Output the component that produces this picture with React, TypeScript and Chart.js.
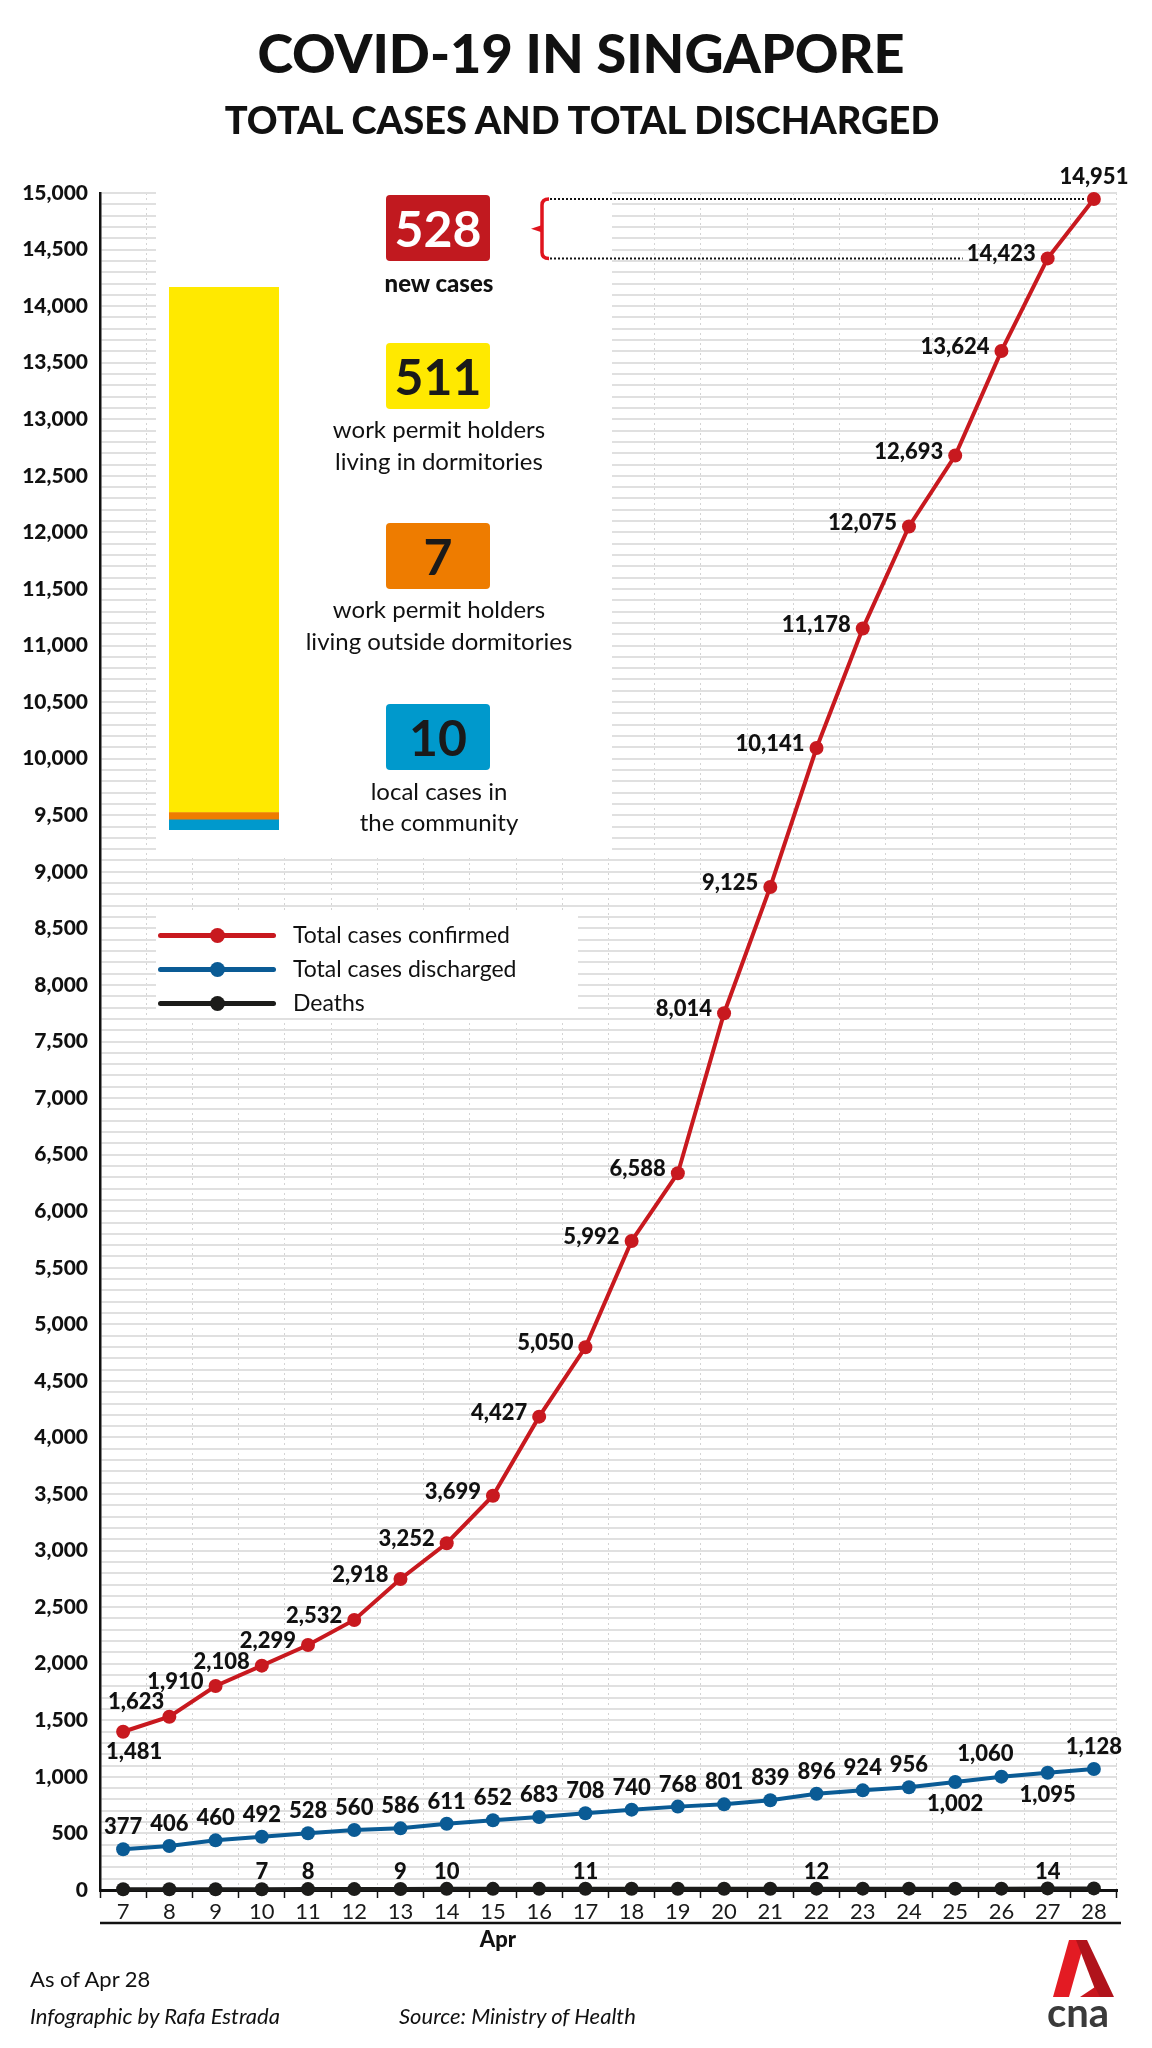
import { useEffect, useRef } from "react"
import { Chart, registerables } from "chart.js"

Chart.register(...registerables)

// April 2020, day of month
const days = ["7", "8", "9", "10", "11", "12", "13", "14", "15", "16", "17", "18", "19", "20", "21", "22", "23", "24", "25", "26", "27", "28"]

const seriesNames = ["Total cases confirmed", "Total cases discharged", "Deaths"]

// heights as drawn in the infographic (they drift a little from the printed labels)
const confirmedPlotted = [1399, 1532, 1803, 1983, 2166, 2387, 2749, 3065, 3485, 4184, 4797, 5737, 6336, 7750, 8866, 10094, 11150, 12052, 12680, 13604, 14422, 14947]
const confirmedLabels = ["1,481", "1,623", "1,910", "2,108", "2,299", "2,532", "2,918", "3,252", "3,699", "4,427", "5,050", "5,992", "6,588", "8,014", "9,125", "10,141", "11,178", "12,075", "12,693", "13,624", "14,423", "14,951"]

const dischargedPlotted = [360, 389, 439, 471, 501, 530, 545, 586, 616, 645, 678, 710, 737, 757, 793, 851, 881, 908, 955, 1002, 1037, 1070]
const dischargedLabels = ["377", "406", "460", "492", "528", "560", "586", "611", "652", "683", "708", "740", "768", "801", "839", "896", "924", "956", "1,002", "1,060", "1,095", "1,128"]

const deaths = [6, 6, 6, 7, 8, 8, 9, 10, 10, 10, 11, 11, 11, 11, 11, 12, 12, 12, 12, 12, 14, 14]
const deathLabels = ["", "", "", "7", "8", "", "9", "10", "", "", "11", "", "", "", "", "12", "", "", "", "", "14", ""]

// new cases on Apr 28, bottom of the stack first
const newCaseGroups = ["local cases in|the community", "work permit holders|living outside dormitories", "work permit holders|living in dormitories"]
const newCaseCounts = [10, 7, 511]
const newCasesTotal = 528

// where each point label sits
const confirmedSide = ["belowRight", "leftHigh", "left", "left", "left", "left", "left", "left", "left", "left", "left", "left", "left", "left", "left", "left", "left", "left", "left", "left", "left", "above"]
const dischargedSide = ["above", "above", "above", "above", "above", "above", "above", "above", "above", "above", "above", "above", "above", "above", "above", "above", "above", "above", "below", "aboveLeft", "below", "above"]

const RED = "#c8191f"
const BLUE = "#0a5b95"
const BLACK = "#1c1c1a"
const groupColors = ["#0099cc", "#ee7c00", "#ffe900"]
const FONT = "Lato, sans-serif"
const LABEL_FONT = `900 22px ${FONT}`

const panelPlugin = {
  id: "panels",
  beforeDatasetsDraw(chart: Chart) {
    const ctx = chart.ctx
    ctx.save()
    ctx.fillStyle = "#fff"
    ctx.fillRect(156, 185, 456, 672)
    ctx.fillRect(156, 913, 422, 104)
    ctx.restore()
  },
}

const labelPlugin = {
  id: "pointLabels",
  afterDatasetsDraw(chart: Chart) {
    const ctx = chart.ctx
    ctx.save()
    ctx.font = LABEL_FONT
    ctx.fillStyle = "#111"
    ctx.textBaseline = "middle"
    const sets: [string[], string[]][] = [
      [confirmedLabels, confirmedSide],
      [dischargedLabels, dischargedSide],
      [deathLabels, deathLabels.map(() => "aboveNear")],
    ]
    sets.forEach(([labels, sides], di) => {
      const meta = chart.getDatasetMeta(di)
      meta.data.forEach((pt, i) => {
        const text = labels[i]
        if (!text) return
        let x = pt.x
        let y = pt.y
        ctx.textAlign = "center"
        switch (sides[i]) {
          case "left":
            ctx.textAlign = "right"
            x -= 12
            y -= 4
            break
          case "leftHigh":
            ctx.textAlign = "right"
            x -= 5
            y -= 15
            break
          case "belowRight":
            x += 11
            y += 20
            break
          case "below":
            y += 22
            break
          case "aboveLeft":
            x -= 16
            y -= 23
            break
          case "aboveNear":
            y -= 17
            break
          default:
            y -= 22
        }
        ctx.fillText(text, x, y)
      })
    })
    ctx.restore()
  },
}

const bracketPlugin = {
  id: "bracket",
  afterDatasetsDraw(chart: Chart) {
    const pts = chart.getDatasetMeta(0).data
    const last = pts[pts.length - 1]
    const prev = pts[pts.length - 2]
    const ctx = chart.ctx
    ctx.save()
    ctx.font = LABEL_FONT
    const w = ctx.measureText(confirmedLabels[confirmedLabels.length - 2]).width
    ctx.strokeStyle = "#111"
    ctx.lineWidth = 2
    ctx.setLineDash([2, 2])
    ctx.beginPath()
    ctx.moveTo(550, last.y)
    ctx.lineTo(last.x - 9, last.y)
    ctx.moveTo(550, prev.y)
    ctx.lineTo(prev.x - 12 - w - 4, prev.y)
    ctx.stroke()

    const bx = 542
    const top = last.y
    const bot = prev.y
    const mid = (top + bot) / 2
    ctx.setLineDash([])
    ctx.strokeStyle = "#e0141e"
    ctx.fillStyle = "#e0141e"
    ctx.lineWidth = 3.5
    ctx.beginPath()
    ctx.moveTo(bx + 7, top)
    ctx.quadraticCurveTo(bx, top, bx, top + 6)
    ctx.lineTo(bx, bot - 6)
    ctx.quadraticCurveTo(bx, bot, bx + 7, bot)
    ctx.stroke()
    ctx.beginPath()
    ctx.moveTo(bx + 1, mid - 4)
    ctx.lineTo(bx - 11, mid)
    ctx.lineTo(bx + 1, mid + 4)
    ctx.closePath()
    ctx.fill()
    ctx.restore()
  },
}

const axisRulePlugin = {
  id: "axisRule",
  afterDraw(chart: Chart) {
    const { ctx, chartArea } = chart
    ctx.save()
    ctx.strokeStyle = "#111"
    ctx.lineWidth = 2.5
    ctx.beginPath()
    ctx.moveTo(chartArea.left, chartArea.bottom + 33)
    ctx.lineTo(chartArea.right + 4, chartArea.bottom + 33)
    ctx.stroke()
    ctx.restore()
  },
}

function Txt({ x, y, size, weight = 400, italic = false, align = "center", color = "#111", children }: any) {
  const style: any = {
    position: "absolute",
    top: y - size * 0.63,
    fontSize: size,
    lineHeight: `${size * 1.2}px`,
    fontWeight: weight,
    fontStyle: italic ? "italic" : "normal",
    color,
    whiteSpace: "nowrap",
  }
  if (align === "center") Object.assign(style, { left: x - 400, width: 800, textAlign: "center" })
  else Object.assign(style, { left: x })
  return <div style={style}>{children}</div>
}

function NumBox({ top, bg, color, value }: { top: number; bg: string; color: string; value: number }) {
  return (
    <div
      style={{
        position: "absolute",
        left: 386,
        top,
        width: 104,
        height: 66,
        background: bg,
        borderRadius: 4,
        color,
        fontSize: 50,
        fontWeight: 700,
        lineHeight: "66px",
        textAlign: "center",
      }}
    >
      {value}
    </div>
  )
}

export default function App() {
  const mainRef = useRef<HTMLCanvasElement>(null)
  const barRef = useRef<HTMLCanvasElement>(null)

  useEffect(() => {
    document.body.style.margin = "0"
    if (!mainRef.current || !barRef.current) return

    const yGrid: number[] = []
    for (let v = 0; v <= 15000; v += 100) yGrid.push(v)

    const line = (label: string, data: number[], color: string) => ({
      label,
      data,
      borderColor: color,
      backgroundColor: color,
      pointBackgroundColor: color,
      borderWidth: 4,
      pointRadius: 7,
      pointBorderWidth: 0,
      tension: 0,
      clip: false as const,
    })

    const main = new Chart(mainRef.current, {
      type: "line",
      data: {
        labels: days,
        datasets: [
          line(seriesNames[0], confirmedPlotted, RED),
          line(seriesNames[1], dischargedPlotted, BLUE),
          line(seriesNames[2], deaths, BLACK),
        ],
      },
      options: {
        responsive: false,
        animation: false,
        layout: { padding: { top: 193, right: 35, bottom: 0, left: 0 } },
        plugins: { legend: { display: false }, tooltip: { enabled: false }, title: { display: false } },
        scales: {
          x: {
            type: "category",
            offset: true,
            grid: { offset: true, color: "#d4d4d4", lineWidth: 1, drawTicks: true, tickLength: 8, tickColor: "#111", tickWidth: 1.5 },
            border: { color: "#111", width: 3, dash: [2, 3] },
            ticks: { color: "#1a1a1a", font: { family: FONT, size: 22 }, padding: 1, autoSkip: false, maxRotation: 0 },
            afterFit: (s: any) => {
              s.height = 158
            },
          },
          y: {
            min: 0,
            max: 15000,
            afterBuildTicks: (s: any) => {
              s.ticks = yGrid.map((v) => ({ value: v }))
            },
            ticks: {
              autoSkip: false,
              padding: 12,
              color: "#111",
              font: { family: FONT, size: 21, weight: 900 },
              callback: (v: any) => (Number(v) % 500 === 0 ? Number(v).toLocaleString("en-US") : ""),
            },
            grid: { color: "#e0e0e0", lineWidth: 2, drawTicks: false },
            border: { color: "#111", width: 2.5 },
            afterFit: (s: any) => {
              s.width = 100
            },
          },
        },
      },
      plugins: [panelPlugin, labelPlugin, bracketPlugin, axisRulePlugin],
    })

    const bar = new Chart(barRef.current, {
      type: "bar",
      data: {
        labels: ["Apr 28"],
        datasets: newCaseGroups.map((g, i) => ({
          label: g.replace("|", " "),
          data: [newCaseCounts[i]],
          backgroundColor: groupColors[i],
          borderWidth: 0,
          barPercentage: 1,
          categoryPercentage: 1,
        })),
      },
      options: {
        responsive: false,
        animation: false,
        layout: { padding: 0 },
        plugins: { legend: { display: false }, tooltip: { enabled: false } },
        scales: {
          x: { stacked: true, display: false },
          y: { stacked: true, display: false, min: 0, max: newCasesTotal },
        },
      },
    })

    return () => {
      main.destroy()
      bar.destroy()
    }
  }, [])

  const boxTops = [704, 523, 343]
  const textRows = [
    [792, 823],
    [610, 642],
    [430, 462],
  ]
  const legendY = [935, 969, 1003]
  const legendColors = [RED, BLUE, BLACK]

  return (
    <div style={{ position: "relative", width: 1152, height: 2048, background: "#fff", fontFamily: FONT, color: "#111", overflow: "hidden" }}>
      <canvas ref={mainRef} width={1152} height={2048} style={{ position: "absolute", left: 0, top: 0 }} />
      <canvas ref={barRef} width={110} height={543} style={{ position: "absolute", left: 169, top: 287 }} />

      <Txt x={581} y={55} size={54} weight={900}>COVID-19 IN SINGAPORE</Txt>
      <Txt x={582} y={121} size={38} weight={900}>TOTAL CASES AND TOTAL DISCHARGED</Txt>

      <NumBox top={195} bg="#c1191f" color="#fff" value={newCasesTotal} />
      <Txt x={439} y={284} size={24} weight={900}>new cases</Txt>

      {newCaseGroups.map((g, i) => (
        <div key={g}>
          <NumBox top={boxTops[i]} bg={groupColors[i]} color="#1a1a1a" value={newCaseCounts[i]} />
          {g.split("|").map((t, j) => (
            <Txt key={t} x={439} y={textRows[i][j]} size={24}>
              {t}
            </Txt>
          ))}
        </div>
      ))}

      {seriesNames.map((name, i) => (
        <div key={name}>
          <div style={{ position: "absolute", left: 158, top: legendY[i] - 2.5, width: 118, height: 5, borderRadius: 3, background: legendColors[i] }} />
          <div style={{ position: "absolute", left: 209.5, top: legendY[i] - 7.5, width: 15, height: 15, borderRadius: "50%", background: legendColors[i] }} />
          <Txt x={293} y={legendY[i]} size={23} align="left">
            {name}
          </Txt>
        </div>
      ))}

      <Txt x={498} y={1940} size={22} weight={900}>Apr</Txt>

      <Txt x={30} y={1980} size={22} align="left">As of Apr 28</Txt>
      <Txt x={30} y={2017} size={22} italic align="left">Infographic by Rafa Estrada</Txt>
      <Txt x={399} y={2017} size={22} italic align="left">Source: Ministry of Health</Txt>

      <svg width={110} height={110} style={{ position: "absolute", left: 1030, top: 1930 }}>
        <polygon points="39,10 55,10 39,67 23,67" fill="#e31b23" />
        <polygon points="46,10 57,10 84,67 68,67" fill="#b0131b" />
        <polygon points="50,67 70,67 65,57" fill="#c8161d" />
        <text x={48} y={97} textAnchor="middle" fontFamily={FONT} fontWeight={700} fontSize={40} fill="#3a3a3a">
          cna
        </text>
      </svg>
    </div>
  )
}
